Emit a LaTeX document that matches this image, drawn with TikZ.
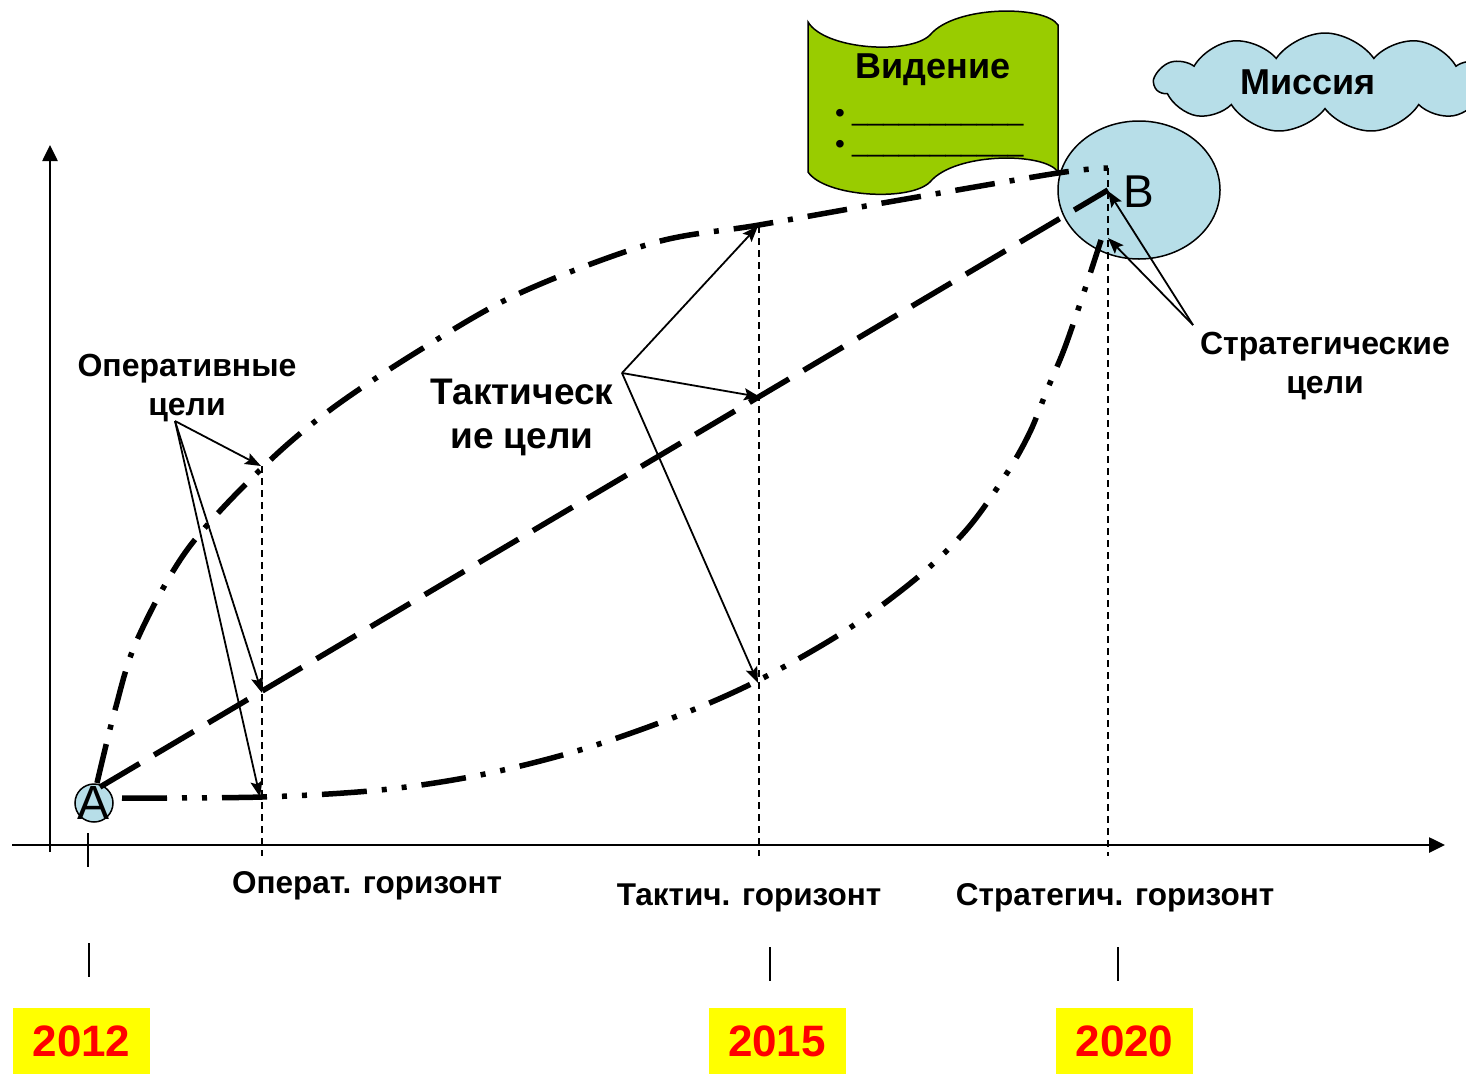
\documentclass[tikz,border=0pt]{standalone}
\usepackage{fontspec}
\setmainfont{Liberation Sans}
\usetikzlibrary{arrows.meta,shapes.geometric,shapes.symbols}
\definecolor{lblue}{HTML}{B7DEE8}
\definecolor{vgreen}{HTML}{99CC00}
\definecolor{yel}{HTML}{FFFF00}
\definecolor{redtxt}{HTML}{FF0000}
\begin{document}
\begin{tikzpicture}[x=1pt,y=-1pt,
  thickcurve/.style={line width=5.5pt,line cap=butt},
  dashdotstyle/.style={thickcurve,dash pattern=on 40pt off 15pt on 5pt off 15pt},
  dashdotdotstyle/.style={thickcurve,dash pattern=on 45pt off 15pt on 5pt off 15pt on 5pt off 15pt},
  longdashstyle/.style={thickcurve,dash pattern=on 46pt off 16.9pt},
  guide/.style={line width=1.3pt,dash pattern=on 7pt off 5pt},
  pointer/.style={line width=1.8pt,-{Stealth[length=16pt,width=12pt,inset=3pt]}},
  axisline/.style={line width=2.6pt,-{Triangle[length=16pt,width=15pt]}},
  tickline/.style={line width=1.5pt},
  lbl/.style={font=\bfseries\fontsize{32}{39}\selectfont,align=center,inner sep=0pt},
  horiz/.style={font=\bfseries\fontsize{31.5}{36}\selectfont,inner sep=0pt},
  yearbox/.style={fill=yel,minimum width=137pt,minimum height=66pt,inner sep=0pt,
     text=redtxt,font=\bfseries\fontsize{44}{50}\selectfont},
  bubble/.style={fill=lblue,draw=black,line width=1.5pt}
]
\useasboundingbox (0,0) rectangle (1466,1074);
\clip (0,0) rectangle (1466,1074);

% Vision scroll
\filldraw[fill=vgreen,draw=black,line width=1.5pt]
  (808,22) .. controls (825,50) and (910,55) .. (930,35)
  .. controls (955,5) and (1045,5) .. (1058,25)
  -- (1058,172)
  .. controls (1045,152) and (955,152) .. (930,182)
  .. controls (910,202) and (825,197) .. (808,172) -- cycle;
\node[font=\bfseries\fontsize{36}{40}\selectfont,inner sep=0pt] (vision) at (933,70) {Видение};
\node[font=\fontsize{28}{30}\selectfont,inner sep=0pt,anchor=base west] (v1) at (835,122) {•};
\node[font=\fontsize{28}{30}\selectfont,inner sep=0pt,anchor=base west] (v2) at (835,153) {•};
\node[font=\fontsize{28}{30}\selectfont,inner sep=0pt,anchor=base west] (u1) at (852,120) {\_\_\_\_\_\_\_\_\_\_\_};
\node[font=\fontsize{28}{30}\selectfont,inner sep=0pt,anchor=base west] (u2) at (852,151) {\_\_\_\_\_\_\_\_\_\_\_};

% Mission cloud
\node[cloud,cloud puffs=11,cloud puff arc=110,aspect=3.4,bubble,
      minimum width=340pt,minimum height=100pt] (cloudshape) at (1325,83) {};
\node[font=\bfseries\fontsize{36}{40}\selectfont,inner sep=0pt] (mission) at (1308,82) {Миссия};

% B ellipse
\node[ellipse,bubble,minimum width=162pt,minimum height=138pt,inner sep=0pt] (Bell) at (1139,190) {};
% A circle
\node[circle,bubble,minimum size=38pt,inner sep=0pt] (Acirc) at (94,803) {};

% axes
\coordinate (yb) at (50,852);
\coordinate (yt) at (50,145);
\coordinate (xl) at (12,845);
\coordinate (xr) at (1445,845);
\draw[axisline] (yb) -- (yt);
\draw[axisline] (xl) -- (xr);

% ticks
\coordinate (tA1) at (88,833); \coordinate (tA2) at (88,867);
\draw[tickline] (tA1) -- (tA2);
\coordinate (k1a) at (89,943); \coordinate (k1b) at (89,977);
\coordinate (k2a) at (770,947); \coordinate (k2b) at (770,981);
\coordinate (k3a) at (1118,947); \coordinate (k3b) at (1118,981);
\draw[tickline] (k1a) -- (k1b);
\draw[tickline] (k2a) -- (k2b);
\draw[tickline] (k3a) -- (k3b);

% guide lines
\coordinate (g1t) at (262,466); \coordinate (g1b) at (262,856);
\coordinate (g2t) at (759,226); \coordinate (g2b) at (759,856);
\coordinate (g3t) at (1108,168); \coordinate (g3b) at (1108,856);
\draw[guide] (g1t) -- (g1b);
\draw[guide] (g2t) -- (g2b);
\draw[guide] (g3t) -- (g3b);

% curves
\coordinate (lineA) at (100,787);
\coordinate (lineB) at (1108,190);
\draw[longdashstyle] (lineA) -- (lineB);

\draw[dashdotstyle] plot[smooth,tension=0.55] coordinates {
  (97,783) (115,710) (137,640) (187,550) (262,468) (330,410) (420,350)
  (520,293) (653,243) (759,225) (900,200) (1058,173) (1108,168)};

\draw[dashdotdotstyle] plot[smooth,tension=0.55] coordinates {
  (122,798) (262,797) (380,790) (480,775) (580,750) (680,715) (759,680)
  (845,631) (918,577) (968,528) (1007,473) (1030,432) (1047,390)
  (1065,347) (1087,283) (1101,240)};

% letters A and B
\node[font=\fontsize{48}{50}\selectfont,inner sep=0pt] (Alabel) at (94,803) {A};
\node[font=\fontsize{46}{50}\selectfont,inner sep=0pt] (Blabel) at (1139,192) {B};

% labels
\node[lbl] (oper) at (187,388) {Оперативные\\цели};
\node[lbl,font=\bfseries\fontsize{37}{44}\selectfont] (tact) at (522,417) {Тактическ\\ие цели};
\node[lbl] (strat) at (1325,366) {Стратегические\\цели};

% pointer arrows
\coordinate (of) at (175,421);
\coordinate (o1) at (261,466);
\coordinate (o2) at (262,693);
\coordinate (o3) at (260,797);
\draw[pointer] (of) -- (o1);
\draw[pointer] (of) -- (o2);
\draw[pointer] (of) -- (o3);

\coordinate (tf) at (622,373);
\coordinate (t1) at (758,226);
\coordinate (t2) at (760,397);
\coordinate (t3) at (758,683);
\draw[pointer] (tf) -- (t1);
\draw[pointer] (tf) -- (t2);
\draw[pointer] (tf) -- (t3);

\coordinate (sf) at (1193,325);
\coordinate (s1) at (1108,191);
\coordinate (s2) at (1108,238);
\draw[pointer] (sf) -- (s1);
\draw[pointer] (sf) -- (s2);

% horizon labels
\node[horiz] (hop) at (367,886) {Операт. горизонт};
\node[horiz] (htac) at (749,898) {Тактич. горизонт};
\node[horiz] (hstr) at (1115,898) {Стратегич. горизонт};

% year boxes
\node[yearbox] (y12) at (81.5,1041) {2012};
\node[yearbox] (y15) at (777,1041) {2015};
\node[yearbox] (y20) at (1124.5,1041) {2020};
\end{tikzpicture}
\end{document}
